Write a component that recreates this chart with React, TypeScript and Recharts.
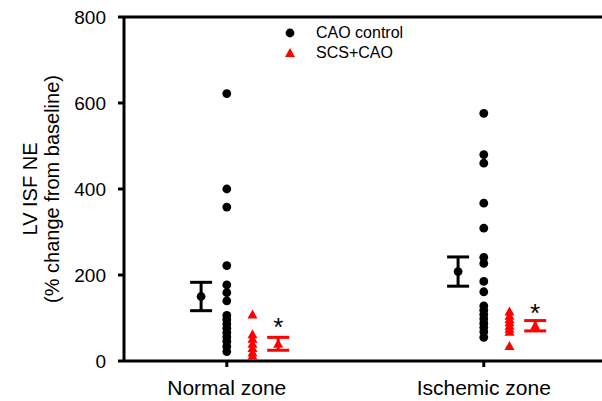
import React from 'react';
import { ScatterChart, Scatter, XAxis, YAxis, ReferenceLine, ErrorBar, Legend } from 'recharts';

const font = '"Liberation Sans", Arial, sans-serif';

const zones = ['Normal zone', 'Ischemic zone'];
const zoneX = [1, 2];
const yTicks = [0, 200, 400, 600, 800];

// individual animals, % change from baseline
const caoNormal = [622, 400, 358, 222, 177, 159, 140, 106, 96, 86, 76, 66, 56, 46, 34, 22];
const caoIschemic = [576, 480, 460, 367, 309, 241, 227, 185, 161, 128, 118, 108, 98, 88, 78, 68, 55];
const scsNormal = [108, 62, 52, 40, 30, 20, 12];
const scsIschemic = [115, 105, 97, 90, 82, 75, 68, 35];

// mean +/- SE per zone
const caoMean = [150, 208];
const caoSe = [33, 34];
const scsMean = [40, 82];
const scsSe = [15, 12];

// significance markers
const starY = [93, 126];

const legendItems = [
  { name: 'CAO control', color: '#000', shape: 'circle' },
  { name: 'SCS+CAO', color: '#ff0000', shape: 'triangle' },
];

// horizontal placement of each group around the zone tick
const OFF_CAO_MEAN = -0.1;
const OFF_CAO = 0;
const OFF_SCS = 0.1;
const OFF_SCS_MEAN = 0.2;

const toPoints = (vals: number[], x: number) => vals.map((y) => ({ x, y }));

const caoPts = [...toPoints(caoNormal, zoneX[0] + OFF_CAO), ...toPoints(caoIschemic, zoneX[1] + OFF_CAO)];
const scsPts = [...toPoints(scsNormal, zoneX[0] + OFF_SCS), ...toPoints(scsIschemic, zoneX[1] + OFF_SCS)];
const caoMeanPts = caoMean.map((y, i) => ({ x: zoneX[i] + OFF_CAO_MEAN, y, err: caoSe[i] }));
const scsMeanPts = scsMean.map((y, i) => ({ x: zoneX[i] + OFF_SCS_MEAN, y, err: scsSe[i] }));
const starPts = starY.map((y, i) => ({ x: zoneX[i] + OFF_SCS_MEAN, y }));

const Dot = (props: any) => <circle cx={props.cx} cy={props.cy} r={4.4} fill="#000" />;

const Tri = (props: any) => {
  const { cx, cy } = props;
  return <path d={`M${cx},${cy - 5} L${cx + 5},${cy + 4} L${cx - 5},${cy + 4} Z`} fill="#ff0000" />;
};

const Star = (props: any) => (
  <text x={props.cx} y={props.cy + 15} textAnchor="middle" fontSize={26} fontFamily={font} fill="#000">
    *
  </text>
);

const YLabel = () => (
  <g fontFamily={font} fontSize={20} fill="#000">
    <text x={30} y={189} transform="rotate(-90, 30, 189)" textAnchor="middle" dominantBaseline="central">
      LV ISF NE
    </text>
    <text x={52} y={189} transform="rotate(-90, 52, 189)" textAnchor="middle" dominantBaseline="central">
      (% change from baseline)
    </text>
  </g>
);

const renderLegend = () => (
  <div style={{ fontFamily: font, fontSize: 16, color: '#000' }}>
    {legendItems.map((item) => (
      <div key={item.name} style={{ display: 'flex', alignItems: 'center', height: 20 }}>
        <svg width={12} height={20}>
          {item.shape === 'circle' ? (
            <circle cx={6} cy={10} r={4.4} fill={item.color} />
          ) : (
            <path d="M6,5 L11,14 L1,14 Z" fill={item.color} />
          )}
        </svg>
        <span style={{ marginLeft: 20, lineHeight: '20px' }}>{item.name}</span>
      </div>
    ))}
  </div>
);

export default function App() {
  return (
    <div style={{ position: 'absolute', left: 0, top: 0, background: '#fff' }}>
      <ScatterChart width={602} height={401} margin={{ top: 17, right: 0, bottom: 0, left: 0 }}>
        <XAxis
          type="number"
          dataKey="x"
          domain={[0.6, 2.46]}
          allowDataOverflow
          ticks={zoneX}
          tickFormatter={(v: number) => zones[zoneX.indexOf(v)] ?? ''}
          axisLine={{ stroke: '#000', strokeWidth: 3 }}
          tickLine={{ stroke: '#000', strokeWidth: 3 }}
          tickSize={6}
          tickMargin={13}
          height={40}
          tick={{ fontSize: 21, fill: '#000', fontFamily: font }}
        />
        <YAxis
          type="number"
          dataKey="y"
          domain={[0, 800]}
          ticks={yTicks}
          width={124}
          axisLine={{ stroke: '#000', strokeWidth: 3 }}
          tickLine={{ stroke: '#000', strokeWidth: 3 }}
          tickSize={6}
          tickMargin={12}
          tick={{ fontSize: 19, fill: '#000', fontFamily: font }}
          label={{ content: () => <YLabel /> }}
        />
        <ReferenceLine y={800} stroke="#000" strokeWidth={3} />
        <Legend
          layout="vertical"
          align="center"
          verticalAlign="middle"
          content={renderLegend}
          wrapperStyle={{ top: 23, left: 284, width: 160 }}
        />
        <Scatter data={caoPts} shape={Dot} isAnimationActive={false} legendType="none" />
        <Scatter data={scsPts} shape={Tri} isAnimationActive={false} legendType="none" />
        <Scatter data={caoMeanPts} shape={Dot} isAnimationActive={false} legendType="none">
          <ErrorBar dataKey="err" direction="y" width={11} strokeWidth={3} stroke="#000" />
        </Scatter>
        <Scatter data={scsMeanPts} shape={Tri} isAnimationActive={false} legendType="none">
          <ErrorBar dataKey="err" direction="y" width={11} strokeWidth={3} stroke="#ff0000" />
        </Scatter>
        <Scatter data={starPts} shape={Star} isAnimationActive={false} legendType="none" />
      </ScatterChart>
    </div>
  );
}
